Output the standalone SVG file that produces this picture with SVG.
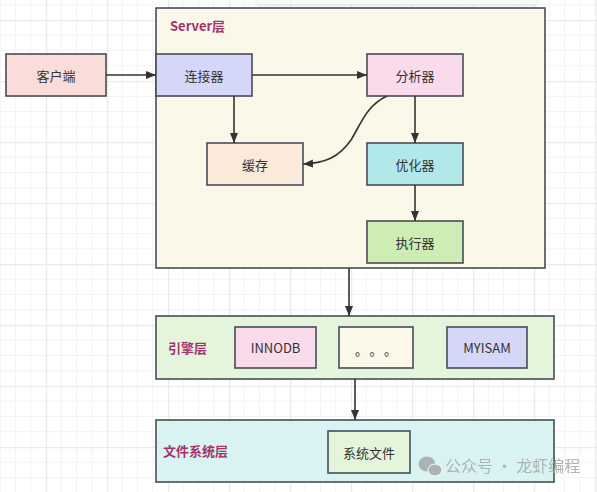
<svg xmlns="http://www.w3.org/2000/svg" width="597" height="492" viewBox="0 0 597 492">
<style>
.box{stroke:#474d55;stroke-width:1.6}
.t{font-family:"Noto Sans CJK SC","Liberation Sans",sans-serif;font-size:13px;fill:#333;text-anchor:middle;dominant-baseline:central}
.lbl{font-family:"Noto Sans CJK SC","Liberation Sans",sans-serif;font-size:13px;font-weight:bold;fill:#a3336e}
.c{fill:none;stroke:#333;stroke-width:1.6}
.wm{font-family:"Noto Sans CJK SC","Liberation Sans",sans-serif;font-size:16px;fill:#a9acac}
</style>
<defs>
<pattern id="grid" x="46" y="20" width="61" height="61" patternUnits="userSpaceOnUse">
<path d="M15.25 0V61M30.5 0V61M45.75 0V61M0 15.25H61M0 30.5H61M0 45.75H61" stroke="#f3f3f3" stroke-width="1"/>
<path d="M0.5 0V61M0 0.5H61" stroke="#ebebeb" stroke-width="1.5"/>
</pattern>
<marker id="ah" viewBox="0 0 10 10" refX="10" refY="5" markerWidth="10" markerHeight="10" markerUnits="userSpaceOnUse" orient="auto">
<path d="M0 1L10 5L0 9Z" fill="#333"/>
</marker>
<filter id="sh" x="-10%" y="-50%" width="120%" height="300%"><feGaussianBlur stdDeviation="2.5"/></filter>
</defs>
<rect width="597" height="492" fill="#fff"/>
<rect width="597" height="492" fill="url(#grid)"/>
<rect x="256" y="-6" width="282" height="12" fill="#000" opacity="0.08" filter="url(#sh)"/>
<rect x="258" y="-6" width="278" height="10" fill="#fafafa"/>

<g id="server">
<rect class="box" x="156" y="8" width="389" height="260" fill="#fbf8ea"/>
<text class="lbl" x="170" y="31">Server层</text>
</g>
<g id="client"><rect class="box" x="6" y="54" width="100" height="42" fill="#fadcd9"/><text class="t" x="56" y="75">客户端</text></g>
<g id="connector"><rect class="box" x="156" y="54" width="96" height="42" fill="#d4d7f7"/><text class="t" x="204" y="75">连接器</text></g>
<g id="analyzer"><rect class="box" x="367" y="54" width="96" height="42" fill="#f9dbec"/><text class="t" x="415" y="75">分析器</text></g>
<g id="cache"><rect class="box" x="207" y="143" width="96" height="42" fill="#fbead9"/><text class="t" x="255" y="164">缓存</text></g>
<g id="optimizer"><rect class="box" x="367" y="143" width="96" height="42" fill="#b3e8ea"/><text class="t" x="415" y="164">优化器</text></g>
<g id="executor"><rect class="box" x="367" y="221" width="96" height="42" fill="#cdedb5"/><text class="t" x="415" y="242">执行器</text></g>

<g id="engine">
<rect class="box" x="156" y="316" width="398" height="63" fill="#e5f5db"/>
<text class="lbl" x="168" y="353">引擎层</text>
</g>
<g id="innodb"><rect class="box" x="235" y="327" width="81" height="41" fill="#f9dbec"/><text class="t" x="275.5" y="347.5">INNODB</text></g>
<g id="dots"><rect class="box" x="339" y="327" width="74" height="41" fill="#fbf8ea"/><text class="t" x="380" y="349" letter-spacing="8">。。。</text></g>
<g id="myisam"><rect class="box" x="447" y="327" width="80" height="41" fill="#d4d7f7"/><text class="t" x="487" y="347.5">MYISAM</text></g>

<g id="fs">
<rect class="box" x="156" y="420" width="398" height="62" fill="#d9f3f3"/>
<text class="lbl" x="163" y="456">文件系统层</text>
</g>
<g id="sysfile"><rect class="box" x="328" y="431" width="82" height="42" fill="#e5f5db"/><text class="t" x="369" y="452">系统文件</text></g>

<g id="connectors">
<path class="c" d="M106 75H156" marker-end="url(#ah)"/>
<path class="c" d="M252 75H367" marker-end="url(#ah)"/>
<path class="c" d="M234 96V143" marker-end="url(#ah)"/>
<path class="c" d="M387 96C366 106 361 124 351 140C339 157 326 163 303 164" marker-end="url(#ah)"/>
<path class="c" d="M415 96V143" marker-end="url(#ah)"/>
<path class="c" d="M415 185V221" marker-end="url(#ah)"/>
<path class="c" d="M349 268V316" marker-end="url(#ah)"/>
<path class="c" d="M355 379V420" marker-end="url(#ah)"/>
</g>

<g id="watermark" opacity="0.9">
<ellipse cx="427" cy="464" rx="8.5" ry="7.5" fill="#a9acac"/>
<ellipse cx="435" cy="470" rx="7" ry="6" fill="#a9acac" stroke="#fff" stroke-width="1"/>
<text class="wm" x="445" y="472">公众号 · 龙虾编程</text>
</g>
</svg>
